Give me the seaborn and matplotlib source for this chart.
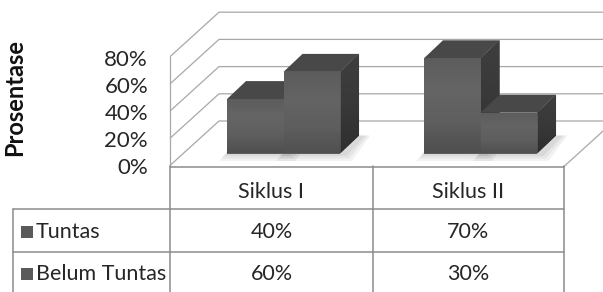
import numpy as np
import pandas as pd
import matplotlib
matplotlib.use("Agg")
import matplotlib.pyplot as plt
from matplotlib.patches import Polygon, Rectangle
from matplotlib.colors import LinearSegmentedColormap
import seaborn as sns

siklus = ["Siklus I", "Siklus II"]
status = ["Tuntas", "Belum Tuntas"]
tuntas = [40, 70]
belum_tuntas = [60, 30]
y_ticks = [0, 20, 40, 60, 80]
y_labels = ["0%", "20%", "40%", "60%", "80%"]
y_title = "Prosentase"

sns.set_theme(style="white")
plt.rcParams["font.family"] = ["Lato", "DejaVu Sans"]

FRONT = "#5e5e5e"
TOP = "#484848"
SIDE = "#393939"
GRID = "#a8a8a8"
TABLE = "#8c8c8c"
TXT = "#262626"

W, H = 603, 292
fig = plt.figure(figsize=(W / 100, H / 100), dpi=100)

# background axes in pixel units for walls and the data table
bg = fig.add_axes([0, 0, 1, 1])
bg.set_xlim(0, W)
bg.set_ylim(H, 0)
bg.axis("off")

# chart axes (bar plane), aligned on the same pixels
ax = fig.add_axes([0, 0, 1, 1], zorder=2)
ax.patch.set_alpha(0)

PX_X = 197.0     # px per category
X0 = 283.5       # px of first category
PX_Y = 1.36      # px per percent
Y0 = 153.5       # px of 0% on bar plane
DEPTH = (19, -18)  # bar depth in px

df = pd.DataFrame({
    "siklus": siklus + siklus,
    "status": [status[0]] * len(siklus) + [status[1]] * len(siklus),
    "persen": tuntas + belum_tuntas,
})
sns.barplot(data=df, x="siklus", y="persen", hue="status", order=siklus,
            hue_order=status, palette=[FRONT, FRONT], width=0.574,
            saturation=1, linewidth=0, errorbar=None, legend=False, ax=ax)
ax.set_xlim(-X0 / PX_X, (W - X0) / PX_X)
ax.set_ylim(-(H - Y0) / PX_Y, Y0 / PX_Y)
ax.axis("off")

front_cmap = LinearSegmentedColormap.from_list("front", ["#4f4f4f", "#5f5f5f", "#656565", "#5c5c5c"])
side_cmap = LinearSegmentedColormap.from_list("side", ["#2e2e2e", "#393939", "#3e3e3e"])
grad = np.linspace(0, 1, 64).reshape(-1, 1)

ddx = DEPTH[0] / PX_X
ddy = -DEPTH[1] / PX_Y
bars = sorted(ax.patches, key=lambda p: p.get_x())
for k, p in enumerate(bars):
    x0 = p.get_x()
    x1 = x0 + p.get_width()
    h = p.get_height()
    z = 2 + 4 * k
    # soft shadow on the floor
    for i in range(3):
        s = (i + 1) * 2.5
        ax.add_patch(Polygon([(x0 - s / PX_X, -s / PX_Y), (x1 + (s + 4) / PX_X, -s / PX_Y),
                              (x1 + ddx + (s + 4) / PX_X, ddy), (x0 + ddx - s / PX_X, ddy)],
                             closed=True, color="#000000", alpha=0.05, lw=0, zorder=1))
    side = Polygon([(x1, 0), (x1, h), (x1 + ddx, h + ddy), (x1 + ddx, ddy)],
                   closed=True, color=SIDE, lw=0, zorder=z)
    ax.add_patch(side)
    im = ax.imshow(grad, cmap=side_cmap, aspect="auto", origin="lower",
                   extent=(x1, x1 + ddx, 0, h + ddy), zorder=z + 0.5, interpolation="bilinear")
    im.set_clip_path(side)
    ax.add_patch(Polygon([(x0, h), (x1, h), (x1 + ddx, h + ddy), (x0 + ddx, h + ddy)],
                         closed=True, color=TOP, lw=0, zorder=z + 1))
    p.set_zorder(z + 2)
    im = ax.imshow(grad, cmap=front_cmap, aspect="auto", origin="lower",
                   extent=(x0, x1, 0, h), zorder=z + 2.5, interpolation="bilinear",
                   alpha=1 if k % 2 == 0 else 0.85)
    im.set_clip_path(p)
ax.set_xlim(-X0 / PX_X, (W - X0) / PX_X)
ax.set_ylim(-(H - Y0) / PX_Y, Y0 / PX_Y)

# walls and gridlines
FX, FY0 = 170, 165.5
BX, BDY = 219, -44.5
for v, lab in zip(y_ticks, y_labels):
    fy = FY0 - v * PX_Y
    bg.plot([FX, BX, W], [fy, fy + BDY, fy + BDY], color=GRID, lw=0.9, solid_capstyle="butt")
    bg.text(148, fy + 3, lab, ha="right", va="center", fontsize=16, color=TXT)
bg.plot([FX, FX], [FY0 - y_ticks[-1] * PX_Y, FY0], color=GRID, lw=0.9)
bg.plot([564, 564 + 49], [166.5, 166.5 + BDY], color=GRID, lw=0.9)

bg.text(15, 98, y_title, rotation=90, ha="center", va="center",
        fontsize=17, fontweight="bold", color="#111111")

# data table
cols = [170, 373, 564]
rows = [166.5, 209, 252, 293]
lw = 1.1
bg.plot([cols[0], cols[-1]], [rows[0], rows[0]], color=TABLE, lw=lw)
for y in rows[1:3]:
    bg.plot([13, cols[-1]], [y, y], color=TABLE, lw=lw)
bg.plot([13, 13], [rows[1], H], color=TABLE, lw=lw)
for x in cols:
    bg.plot([x, x], [rows[0] - 1, H], color=TABLE, lw=lw)

FS = 15.5
for j, name in enumerate(siklus):
    cx = (cols[j] + cols[j + 1]) / 2
    bg.text(cx, 192, name, ha="center", va="center", fontsize=FS, color=TXT)
    for i, vals in enumerate([tuntas, belum_tuntas]):
        cy = (rows[i + 1] + rows[i + 2]) / 2 + 1
        bg.text(cx, cy, f"{vals[j]}%", ha="center", va="center", fontsize=FS, color=TXT)

for i, name in enumerate(status):
    cy = (rows[i + 1] + rows[i + 2]) / 2 + 1
    bg.add_patch(Rectangle((21, cy - 6), 12, 12, color="#5a5a5a", lw=0))
    bg.text(36, cy, name, ha="left", va="center", fontsize=FS, color=TXT)

fig.savefig("out.png", dpi=100)
